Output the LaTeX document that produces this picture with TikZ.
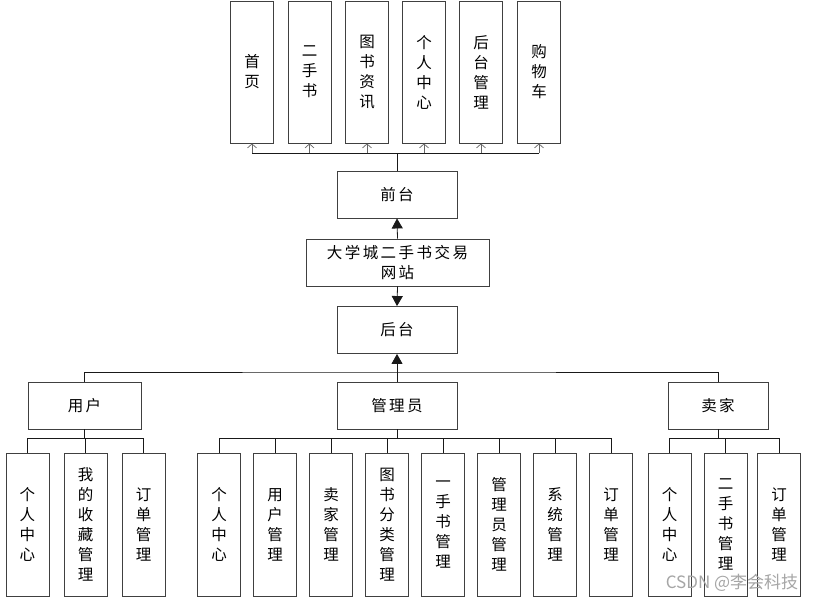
\documentclass[tikz,border=0pt]{standalone}
\usepackage{fontspec}
\newfontfamily\cjk{Noto Sans CJK SC}
\newfontfamily\cjksp[LetterSpace=16]{Noto Sans CJK SC}
\usetikzlibrary{arrows.meta,positioning,calc}

\tikzset{
  box/.style={draw=black!75, line width=0.9pt, fill=white, inner sep=0pt},
  hbox/.style={box, minimum width=120pt, minimum height=47pt, font=\cjksp\fontsize{15.5pt}{20pt}\selectfont},
  vbox/.style={box, minimum width=43pt, minimum height=143pt, align=center, font=\cjk\fontsize{15.5pt}{20pt}\selectfont},
  link/.style={line width=0.8pt, black!90},
  tri/.style={link, -{Triangle[length=10pt,width=11pt]}},
  barb/.style={line width=0.7pt, black!60, -{Straight Barb[length=4pt,width=9pt]}},
}

\begin{document}
\begin{tikzpicture}[x=1pt,y=-1pt]
\useasboundingbox (0,0) rectangle (816,602);
\fill[white] (0,0) rectangle (816,602);

% Front pages
\foreach \x/\txt [count=\i] in {252/{首\\页}, 309.5/{二\\手\\书}, 367/{图\\书\\资\\讯}, 424/{个\\人\\中\\心}, 481/{后\\台\\管\\理}, 539/{购\\物\\车}}
    \node[vbox, minimum height=142pt] (t\i) at (\x,72) {\txt};

% Middle column
\node[hbox] (qt) at (397,194.5) {前台};
\node[hbox, minimum width=183pt, align=center] (site) at (397.5,262.5) {大学城二手书交易\\网站};
\node[hbox] (ht) at (397,330) {后台};
\draw[tri] (site.north) -- (qt.south);
\draw[tri] (site.south) -- (ht.north);

% Front bus
\coordinate (tbus) at (398,153);
\draw[link] (qt.north) -- (qt.north |- tbus);
\draw[link] (t1.south |- tbus) -- (t6.south |- tbus);
\foreach \i in {1,...,6}
    \draw[barb] (t\i.south |- tbus) -- (t\i.south);

% Roles
\node[hbox, minimum width=113pt] (yh) at (84.5,405.5) {用户};
\node[hbox] (gly) at (397,405.5) {管理员};
\node[hbox, minimum width=100pt] (mj) at (718,405.5) {卖家};
\coordinate (bbus) at (397,372);
\draw[tri] (gly.north) -- (ht.south);
\draw[link] (yh.north) |- (bbus) -| (mj.north);

% User functions
\foreach \x/\txt [count=\i] in {27.5/{个\\人\\中\\心}, 85.5/{我\\的\\收\\藏\\管\\理}, 143.5/{订\\单\\管\\理}} {
    \node[vbox] (u\i) at (\x,524.5) {\txt};
    \draw[link] (yh.south) -- ++(0,9) -| (u\i.north);
}

% Admin functions
\foreach \x/\txt [count=\i] in {219/{个\\人\\中\\心}, 275/{用\\户\\管\\理}, 331/{卖\\家\\管\\理}, 387/{图\\书\\分\\类\\管\\理}, 443/{一\\手\\书\\管\\理}, 499/{管\\理\\员\\管\\理}, 555/{系\\统\\管\\理}, 611/{订\\单\\管\\理}} {
    \node[vbox] (g\i) at (\x,524.5) {\txt};
    \draw[link] (gly.south) -- ++(0,9) -| (g\i.north);
}

% Seller functions
\foreach \x/\txt [count=\i] in {669.5/{个\\人\\中\\心}, 725.5/{二\\手\\书\\管\\理}, 779/{订\\单\\管\\理}} {
    \node[vbox] (s\i) at (\x,524.5) {\txt};
    \draw[link] (mj.south) -- ++(0,9) -| (s\i.north);
}

% Watermark
\node[text=black!35, font=\cjk\fontsize{17pt}{20pt}\selectfont] (wm) at (732,583) {CSDN @李会科技};
\end{tikzpicture}
\end{document}
